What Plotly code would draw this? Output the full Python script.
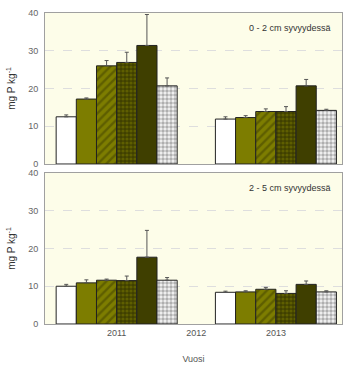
import plotly.graph_objects as go
from plotly.subplots import make_subplots

# Sampling years with data
years = [2011, 2013]
tick_years = [2011, 2012, 2013]

# Treatments (bar order within each year)
treatments = ["A", "B", "C", "D", "E", "F"]

# Soluble P, 0-2 cm depth (mg P kg-1) and upper error
top_vals = [
    [12.5, 11.9],
    [17.2, 12.3],
    [26.0, 13.9],
    [26.9, 13.9],
    [31.4, 20.7],
    [20.7, 14.2],
]
top_err = [
    [0.5, 0.6],
    [0.3, 0.5],
    [1.4, 0.7],
    [2.7, 1.3],
    [8.2, 1.7],
    [2.1, 0.3],
]

# Soluble P, 2-5 cm depth (mg P kg-1) and upper error
bot_vals = [
    [10.0, 8.4],
    [10.9, 8.5],
    [11.6, 9.2],
    [11.5, 8.1],
    [17.7, 10.5],
    [11.6, 8.5],
]
bot_err = [
    [0.5, 0.3],
    [0.8, 0.3],
    [0.3, 0.5],
    [1.2, 0.7],
    [7.1, 0.9],
    [0.7, 0.3],
]

panel_labels = ["0 - 2 cm syvyydessä", "2 - 5 cm syvyydessä"]

OLIVE = "#7d7d00"
DARK = "#3f3f00"

styles = [
    dict(color="white", pattern=dict(shape="")),
    dict(color=OLIVE, pattern=dict(shape="")),
    dict(color=OLIVE, pattern=dict(shape="/", fgcolor=DARK, bgcolor=OLIVE,
                                   size=6, solidity=0.4, fillmode="overlay")),
    dict(color=DARK, pattern=dict(shape=".", fgcolor=OLIVE, bgcolor=DARK,
                                  size=4, solidity=0.5, fillmode="overlay")),
    dict(color=DARK, pattern=dict(shape="")),
    dict(color="white", pattern=dict(shape=".", fgcolor="#6a6a6a", bgcolor="#f4f4f4",
                                     size=4, solidity=0.6, fillmode="overlay")),
]

fig = make_subplots(rows=2, cols=1, shared_xaxes=True, vertical_spacing=0.029)

for row, (vals, errs) in enumerate([(top_vals, top_err), (bot_vals, bot_err)], start=1):
    for i, name in enumerate(treatments):
        st = styles[i]
        fig.add_trace(
            go.Bar(
                x=years,
                y=vals[i],
                name=name,
                showlegend=False,
                marker=dict(color=st["color"], pattern=st["pattern"],
                            line=dict(color="#222222", width=1)),
                error_y=dict(type="data", array=errs[i], arrayminus=[0, 0],
                             symmetric=False, color="#555555", thickness=1, width=2),
            ),
            row=row, col=1,
        )

fig.update_layout(
    width=347, height=369,
    margin=dict(l=45, r=5, t=13, b=45),
    barmode="group", bargap=0.24, bargroupgap=0,
    paper_bgcolor="white", plot_bgcolor="#fdfde9",
    font=dict(family="Liberation Sans, Arial, sans-serif", size=9, color="#555555"),
)

for r in (1, 2):
    fig.update_yaxes(
        range=[0, 40], tickvals=[0, 10, 20, 30, 40],
        showgrid=True, gridcolor="#dedede", griddash="dash", gridwidth=1,
        showline=True, linecolor="#a0a0a0", mirror=True, linewidth=1,
        zeroline=False, ticks="", ticklabelstandoff=4,
        tickfont=dict(size=9, color="#666666"),
        title=dict(text="mg P kg<sup>-1</sup>", font=dict(size=10, color="#333333"), standoff=10),
        row=r, col=1,
    )
    fig.update_xaxes(
        range=[2010.1, 2013.83], tickvals=tick_years,
        showgrid=False, showline=True, linecolor="#a0a0a0", mirror=True, linewidth=1,
        zeroline=False, ticks="",
        tickfont=dict(size=9, color="#555555"),
        row=r, col=1,
    )

fig.update_xaxes(title=dict(text="Vuosi", font=dict(size=9, color="#555555"), standoff=18),
                 row=2, col=1)

for r, txt in enumerate(panel_labels, start=1):
    yref = "y domain" if r == 1 else "y2 domain"
    xref = "x domain" if r == 1 else "x2 domain"
    fig.add_annotation(text=txt, x=0.97, y=0.9, xref=xref, yref=yref,
                       xanchor="right", yanchor="middle", showarrow=False,
                       font=dict(size=9, color="#333333"))

fig.write_html("out.html")
